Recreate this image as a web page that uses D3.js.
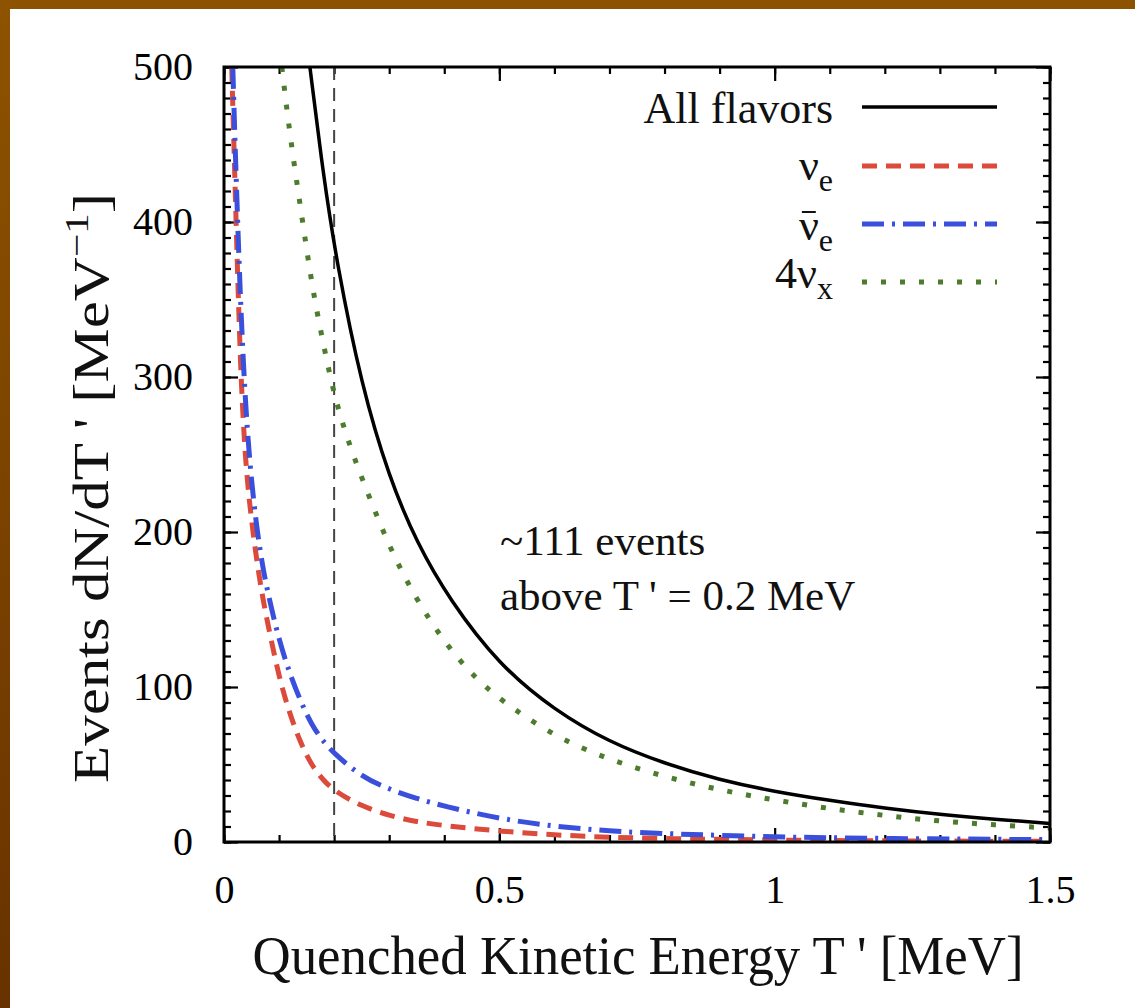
<!DOCTYPE html>
<html><head><meta charset="utf-8">
<script src="https://cdn.jsdelivr.net/npm/d3@7"></script>
<style>html,body{margin:0;padding:0;background:#fff;} svg{display:block;}</style>
</head><body>
<svg id="chart" width="1135" height="1008"></svg>
<script>
// ---------- data ----------
const allT  = [0.156, 0.18, 0.205, 0.25, 0.3, 0.35, 0.41, 0.5, 0.6, 0.7, 0.8, 0.9, 1.0, 1.1, 1.2, 1.3, 1.4, 1.5];
const allV  = [500, 431, 373, 294, 235, 193, 156, 114, 85, 64.3, 50.6, 40, 32.5, 26.8, 21.7, 17.7, 14.6, 12];

const nueT  = [0.014, 0.02, 0.03, 0.04, 0.05, 0.06, 0.07, 0.08, 0.1, 0.12, 0.14, 0.16, 0.18, 0.2, 0.25, 0.3, 0.35, 0.4, 0.5, 0.6, 0.7, 0.8, 1.0, 1.2, 1.5];
const nueV  = [500, 425, 300, 240, 207, 180, 158, 140, 106, 82, 63, 49, 40, 33, 23, 17, 13, 10.5, 7, 4.5, 3, 2.2, 1.2, 0.7, 0.4];

const nuebT = [0.016, 0.02, 0.03, 0.04, 0.05, 0.06, 0.07, 0.08, 0.1, 0.12, 0.14, 0.16, 0.18, 0.2, 0.25, 0.3, 0.35, 0.4, 0.5, 0.6, 0.7, 0.8, 1.0, 1.2, 1.5];
const nuebV = [500, 450, 345, 275, 232, 201, 178, 160, 130, 108, 90, 75, 65, 57, 42, 34, 28, 23, 15, 10, 7, 5.3, 3.2, 2.2, 1.5];

const nuxT  = [0.105, 0.12, 0.14, 0.16, 0.18, 0.2, 0.225, 0.25, 0.3, 0.35, 0.4, 0.45, 0.5, 0.6, 0.7, 0.8, 0.9, 1.0, 1.1, 1.2, 1.3, 1.4, 1.5];
const nuxV  = [500, 455, 407, 358, 322, 288, 259, 235, 190, 156, 129, 108, 92, 68, 53, 42, 33.5, 27, 21.5, 17, 13.4, 11, 9];

const legendMain = ["All flavors", "\u03bd", "\u03bd", "4\u03bd"];
const legendBar  = [false, false, true, false];
const legendSub  = ["", "e", "e", "x"];

const xTicks = [0, 0.5, 1, 1.5];
const xTickLabels = ["0", "0.5", "1", "1.5"];
const yTicks = [0, 100, 200, 300, 400, 500];
const yTickLabels = ["0", "100", "200", "300", "400", "500"];

const thresholdT = 0.2;
const annotationLines = ["~111 events", "above T ' = 0.2 MeV"];
const xTitle = "Quenched Kinetic Energy T ' [MeV]";

// ---------- layout ----------
const svg = d3.select("#chart");
const W = 1135, H = 1008;
const L = 224, R = 1050, Tp = 67, B = 842;
const FONT = "'Liberation Serif','Times New Roman',serif";

const defs = svg.append("defs");
const grad = defs.append("linearGradient").attr("id","bord").attr("x1",0).attr("y1",0).attr("x2",0).attr("y2",1);
grad.append("stop").attr("offset","0%").attr("stop-color","#8e5300");
grad.append("stop").attr("offset","100%").attr("stop-color","#683200");
svg.append("rect").attr("x",0).attr("y",0).attr("width",W).attr("height",H).attr("fill","#fff");
svg.append("rect").attr("x",0).attr("y",0).attr("width",W).attr("height",9).attr("fill","#8d5200");
svg.append("rect").attr("x",0).attr("y",0).attr("width",10).attr("height",H).attr("fill","url(#bord)");

defs.append("clipPath").attr("id","plotclip").append("rect")
  .attr("x",L).attr("y",Tp).attr("width",R-L).attr("height",B-Tp);

const x = d3.scaleLinear().domain([0,1.5]).range([L,R]);
const y = d3.scaleLinear().domain([0,500]).range([B,Tp]);

const minorX = d3.range(0, 1.5001, 0.1);
const minorY = d3.range(0, 500.1, 10);

function styleAxis(g){
  g.select(".domain").remove();
  g.selectAll(".tick line").attr("stroke","#000").attr("stroke-width",2.2);
  g.selectAll(".tick text").attr("font-family",FONT).attr("font-size",40).attr("fill","#000");
}

svg.append("g").attr("transform",`translate(0,${B})`)
  .call(d3.axisBottom(x).tickValues(minorX).tickSize(-7).tickFormat("")).call(styleAxis);
svg.append("g").attr("transform",`translate(0,${Tp})`)
  .call(d3.axisTop(x).tickValues(minorX).tickSize(-7).tickFormat("")).call(styleAxis);
svg.append("g").attr("transform",`translate(${L},0)`)
  .call(d3.axisLeft(y).tickValues(minorY).tickSize(-7).tickFormat("")).call(styleAxis);
svg.append("g").attr("transform",`translate(${R},0)`)
  .call(d3.axisRight(y).tickValues(minorY).tickSize(-7).tickFormat("")).call(styleAxis);

svg.append("g").attr("transform",`translate(0,${B})`)
  .call(d3.axisBottom(x).tickValues(xTicks).tickSize(-14).tickPadding(33)
    .tickFormat((d,i)=>xTickLabels[i])).call(styleAxis);
svg.append("g").attr("transform",`translate(0,${Tp})`)
  .call(d3.axisTop(x).tickValues(xTicks).tickSize(-14).tickFormat("")).call(styleAxis);
svg.append("g").attr("transform",`translate(${L},0)`)
  .call(d3.axisLeft(y).tickValues(yTicks).tickSize(-14).tickPadding(31)
    .tickFormat((d,i)=>yTickLabels[i])).call(styleAxis);
svg.append("g").attr("transform",`translate(${R},0)`)
  .call(d3.axisRight(y).tickValues(yTicks).tickSize(-14).tickFormat("")).call(styleAxis);

svg.append("line")
  .attr("x1",x(thresholdT)).attr("x2",x(thresholdT)).attr("y1",y(500)).attr("y2",y(0))
  .attr("stroke","#444").attr("stroke-width",2).attr("stroke-dasharray","13,8");

const series = [
  {T: allT,  V: allV,  color:"#000000", dash:null,       width:3.5},
  {T: nueT,  V: nueV,  color:"#dc4a3c", dash:"15,9",     width:5},
  {T: nuebT, V: nuebV, color:"#3a4fdc", dash:"22,8,3,8", width:5},
  {T: nuxT,  V: nuxV,  color:"#4d7c2c", dash:"5,14",     width:5}
];
const line = d3.line().x(d=>x(d[0])).y(d=>y(d[1])).curve(d3.curveBasis);
const cg = svg.append("g").attr("clip-path","url(#plotclip)");
series.forEach(s=>{
  cg.append("path").datum(s.T.map((t,i)=>[t,s.V[i]]))
    .attr("d",line).attr("fill","none").attr("stroke",s.color)
    .attr("stroke-width",s.width).attr("stroke-dasharray",s.dash);
});

svg.append("rect").attr("x",L).attr("y",Tp).attr("width",R-L).attr("height",B-Tp)
  .attr("fill","none").attr("stroke","#000").attr("stroke-width",3);

// legend
const legY = [107, 166, 224, 282];
const legTextY = [123, 180, 240, 288];
series.forEach((s,i)=>{
  svg.append("line").attr("x1",862).attr("x2",997).attr("y1",legY[i]).attr("y2",legY[i])
    .attr("stroke",s.color).attr("stroke-width",s.width).attr("stroke-dasharray",s.dash);
  const t = svg.append("text").attr("x",833).attr("y",legTextY[i])
    .attr("text-anchor","end").attr("font-family",FONT).attr("font-size",44).attr("fill","#111");
  t.append("tspan").text(legendMain[i]);
  if (legendSub[i]) t.append("tspan").attr("dy",11).attr("font-size",32).text(legendSub[i]);
  if (legendBar[i]) {
    const n = legendMain[i].length - 1;
    const ext = t.node().getExtentOfChar(n);
    svg.append("line").attr("x1",ext.x+3).attr("x2",ext.x+ext.width-3)
      .attr("y1",legTextY[i]-28).attr("y2",legTextY[i]-28)
      .attr("stroke","#111").attr("stroke-width",2);
  }
});

annotationLines.forEach((s,i)=>{
  svg.append("text").attr("x",500).attr("y",[555,610][i]).attr("font-family",FONT)
    .attr("font-size",43).attr("fill","#111").text(s);
});

svg.append("text").attr("x",638).attr("y",974).attr("text-anchor","middle")
  .attr("font-family",FONT).attr("font-size",54).attr("fill","#111")
  .attr("textLength",771).attr("lengthAdjust","spacingAndGlyphs").text(xTitle);

const yt = svg.append("text").attr("transform","translate(108,488) rotate(-90)")
  .attr("text-anchor","middle").attr("font-family",FONT).attr("font-size",50).attr("fill","#111")
  .attr("textLength",590).attr("lengthAdjust","spacingAndGlyphs");
yt.append("tspan").text("Events dN/dT ' [MeV");
yt.append("tspan").attr("dy",-20).attr("font-size",34).text("\u22121");
yt.append("tspan").attr("dy",20).text("]");
</script>
</body></html>
